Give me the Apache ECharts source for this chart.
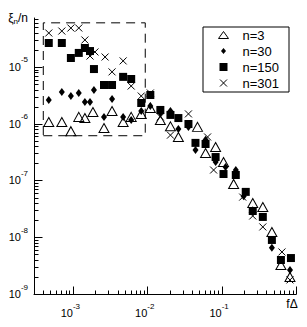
<!DOCTYPE html>
<html><head><meta charset="utf-8">
<script src="https://cdn.jsdelivr.net/npm/echarts@6/dist/echarts.min.js"></script>
<style>html,body{margin:0;padding:0;background:#fff}#c{width:307px;height:327px}</style>
</head><body><div id="c"></div>
<script>
// ---- data ----
const n3X = [4.74e-4, 7.1e-4, 9.4e-4, 1.2e-3, 1.45e-3, 1.86e-3, 2.62e-3, 3.36e-3, 4.74e-3, 6.08e-3, 8.3e-3, 1.1e-2, 1.5e-2, 2.05e-2, 2.62e-2, 4.74e-2, 6.08e-2, 8.3e-2, 0.106, 0.145, 0.262, 0.358, 0.474, 0.627, 0.83];
const n3Y = [1.07e-6, 1.07e-6, 7.4e-7, 1.32e-6, 1.26e-6, 1.61e-6, 8.4e-7, 1.68e-6, 1.07e-6, 1.32e-6, 1.49e-6, 1.9e-6, 1.16e-6, 9.0e-7, 5.85e-7, 8.8e-7, 3.05e-7, 3.9e-7, 2.12e-7, 8.7e-8, 4.0e-8, 3.4e-8, 1.24e-8, 3.24e-9, 2.0e-9];
const n30X = [4.74e-4, 7.1e-4, 9.4e-4, 1.2e-3, 1.45e-3, 1.7e-3, 1.92e-3, 2.62e-3, 3.36e-3, 4.74e-3, 6.08e-3, 8.3e-3, 1.1e-2, 1.5e-2, 2.05e-2, 2.62e-2, 3.58e-2, 4.45e-2, 6.08e-2, 8.3e-2, 0.113, 0.155, 0.198, 0.262, 0.474, 0.83];
const n30Y = [2.62e-6, 3.62e-6, 3.08e-6, 3.48e-6, 2.42e-6, 2.42e-6, 3.94e-6, 1.32e-6, 2.73e-6, 1.32e-6, 1.16e-6, 1.68e-6, 2.06e-6, 1.55e-6, 1.68e-6, 8.1e-7, 8.8e-7, 3.44e-7, 5.2e-7, 2.12e-7, 1.73e-7, 1.53e-7, 5.3e-8, 3.0e-8, 6.5e-9, 2.65e-9];
const n150X = [4.74e-4, 7.1e-4, 9.4e-4, 1.2e-3, 1.45e-3, 1.7e-3, 1.92e-3, 2.62e-3, 3.36e-3, 4.74e-3, 6.08e-3, 8.3e-3, 1.1e-2, 1.5e-2, 2.05e-2, 2.62e-2, 3.58e-2, 4.45e-2, 6.08e-2, 8.3e-2, 0.106, 0.155, 0.211, 0.262, 0.358, 0.474, 0.627, 0.855];
const n150Y = [2.65e-5, 2.65e-5, 1.44e-5, 1.77e-5, 2.16e-5, 1.91e-5, 9.2e-6, 4.82e-6, 4.82e-6, 6.7e-6, 6.15e-6, 2.32e-6, 3.21e-6, 1.75e-6, 1.43e-6, 1.26e-6, 9.9e-7, 4.6e-7, 4.4e-7, 2.59e-7, 1.3e-7, 1.25e-7, 6.3e-8, 2.9e-8, 2.28e-8, 8.96e-9, 3.97e-9, 4.3e-9];
const n301X = [4.74e-4, 7.1e-4, 9.4e-4, 1.2e-3, 1.45e-3, 1.7e-3, 1.98e-3, 2.71e-3, 3.36e-3, 4.74e-3, 6.08e-3, 8.3e-3, 1.1e-2, 1.5e-2, 2.05e-2, 3.58e-2, 6.47e-2, 7.8e-2, 0.192, 0.262, 0.358, 0.647, 0.83];
const n301Y = [3.97e-5, 4.3e-5, 4.86e-5, 4.86e-5, 2.99e-5, 1.56e-5, 1.84e-5, 1.5e-5, 8.2e-6, 1.28e-5, 4.62e-6, 3.08e-6, 3.48e-6, 1.32e-6, 6.3e-7, 1.49e-6, 5.85e-7, 1.53e-7, 5.1e-8, 2.37e-8, 1.52e-8, 5.5e-9, 1.77e-9];
const seriesNames = ['n=3', 'n=30', 'n=150', 'n=301'];
const xRange = [3e-4, 1];
const yRange = [1e-9, 7.3e-5];
const xDecades = [-4, -3, -2, -1, 0];
const yDecades = [-9, -8, -7, -6, -5];
const boxX = [4e-4, 9.4e-3];
const boxY = [6.15e-7, 6.0e-5];
const xName = 'fΔ';
const yNameParts = ['ξ', 'n', '/n'];

// ---- helpers ----
const FONT = "'Liberation Sans', Arial, Helvetica, sans-serif";
function pairs(xs, ys) { return xs.map((x, i) => [x, ys[i]]); }
function tickVals(decades, lo, hi) {
  const out = [];
  decades.forEach(d => {
    for (let m = 1; m <= 9; m++) {
      const v = m * Math.pow(10, d);
      if (v > lo * 1.0001 && v <= hi * 1.0001) out.push([v, m === 1 ? 1 : 0]);
    }
  });
  return out;
}
const xTicks = tickVals(xDecades, xRange[0], xRange[1]);
const yTicks = tickVals(yDecades, yRange[0] * 0.99, yRange[1]);

function tickSeries(vals, dir) {
  return {
    type: 'custom', silent: true, clip: false, z: 3,
    data: vals.map(t => dir === 'x' ? [t[0], yRange[0], t[1]] : [xRange[0], t[0], t[1]]),
    encode: { x: 0, y: 1 },
    renderItem: (params, api) => {
      const p = api.coord([api.value(0), api.value(1)]);
      const L = api.value(2) ? 8 : 4;
      const x = Math.round(p[0]) + 0.5, y = Math.round(p[1]) + 0.5;
      const shape = dir === 'x' ? { x1: x, y1: y, x2: x, y2: y - L } : { x1: x, y1: y, x2: x + L, y2: y };
      return { type: 'line', shape, style: { stroke: '#000', lineWidth: 1 } };
    }
  };
}
function powLabel(v) {
  const l = Math.log10(v), e = Math.round(l);
  if (Math.abs(l - e) > 1e-6 || e === 0) return '';
  return '{b|10}{s|-' + Math.abs(e) + '}';
}

const crossPath = 'path://M0,0L10,10M10,0L0,10';
const chart = echarts.init(document.getElementById('c'), null, { renderer: 'svg' });
chart.setOption({
  animation: false,
  backgroundColor: '#fff',
  grid: { left: 34, top: 18, width: 262, height: 276 },
  xAxis: {
    type: 'log', logBase: 10, min: xRange[0], max: xRange[1],
    axisLine: { lineStyle: { color: '#000', width: 1 } },
    axisTick: { show: false }, splitLine: { show: false }, minorTick: { show: false },
    axisLabel: {
      margin: 8, color: '#000', formatter: powLabel,
      showMinLabel: true, showMaxLabel: true,
      rich: {
        b: { fontSize: 11, fontFamily: FONT, color: '#000' },
        s: { fontSize: 8, fontFamily: FONT, color: '#000', padding: [0, 5, 14, 0] }
      }
    },
    name: xName, nameLocation: 'end', nameGap: -4,
    nameTextStyle: { fontSize: 12, fontFamily: FONT, color: '#000', align: 'center', verticalAlign: 'top', padding: [4, 0, 0, 0] }
  },
  yAxis: {
    type: 'log', logBase: 10, min: yRange[0], max: yRange[1],
    axisLine: { lineStyle: { color: '#000', width: 1 } },
    axisTick: { show: false }, splitLine: { show: false }, minorTick: { show: false },
    axisLabel: {
      margin: 6, color: '#000', formatter: powLabel,
      rich: {
        b: { fontSize: 11, fontFamily: FONT, color: '#000' },
        s: { fontSize: 8, fontFamily: FONT, color: '#000', padding: [0, 0, 14, 0] }
      }
    },
    name: '{a|' + yNameParts[0] + '}{sub|' + yNameParts[1] + '}{a|' + yNameParts[2] + '}',
    nameLocation: 'end', nameGap: 0,
    nameTextStyle: {
      align: 'right', verticalAlign: 'middle', padding: [0, 6, 0, 0],
      rich: {
        a: { fontSize: 12, fontFamily: FONT, color: '#000' },
        sub: { fontSize: 8, fontFamily: FONT, color: '#000', padding: [6, 0, 0, 0] }
      }
    }
  },
  legend: {
    orient: 'vertical', left: 203, top: 27,
    padding: [0, 10, 1, 15], itemGap: 0, itemWidth: 10, itemHeight: 10,
    backgroundColor: '#fff', borderColor: '#000', borderWidth: 1, borderRadius: 0,
    selectedMode: false,
    textStyle: { fontSize: 13, fontFamily: FONT, color: '#000', lineHeight: 16, padding: [0, 0, 0, 9] },
    data: [
      { name: seriesNames[0], icon: 'path://M0,0M10,10M5,1.5L10,8.5L0,8.5Z', itemStyle: { color: 'rgba(0,0,0,0)', borderColor: '#000', borderWidth: 1, opacity: 1 } },
      { name: seriesNames[1], icon: 'path://M0,0M10,10M5,2L7.5,5L5,8L2.5,5Z', itemStyle: { color: '#000', borderWidth: 0, opacity: 1 } },
      { name: seriesNames[2], icon: 'path://M0,0M10,10M1,1L9,1L9,9L1,9Z', itemStyle: { color: '#000', borderWidth: 0, opacity: 1 } },
      { name: seriesNames[3], icon: 'path://M0,0M10,10M1.5,1.5L8.5,8.5M8.5,1.5L1.5,8.5', itemStyle: { color: 'rgba(0,0,0,0)', borderColor: '#000', borderWidth: 1, opacity: 1 } }
    ]
  },
  series: [
    {
      name: seriesNames[0], type: 'scatter', data: pairs(n3X, n3Y),
      symbol: 'triangle', symbolSize: [10, 9],
      itemStyle: { color: 'rgba(0,0,0,0)', borderColor: '#000', borderWidth: 1, opacity: 1 },
      emphasis: { disabled: true }, z: 5,
      markArea: {
        silent: true,
        itemStyle: { color: 'rgba(0,0,0,0)', borderColor: '#000', borderWidth: 1, borderType: [9, 6], opacity: 1 },
        data: [[{ coord: [boxX[0], boxY[0]] }, { coord: [boxX[1], boxY[1]] }]]
      }
    },
    {
      name: seriesNames[1], type: 'scatter', data: pairs(n30X, n30Y),
      symbol: 'diamond', symbolSize: [6, 8],
      itemStyle: { color: '#000', opacity: 1 }, emphasis: { disabled: true }, z: 5
    },
    {
      name: seriesNames[2], type: 'scatter', data: pairs(n150X, n150Y),
      symbol: 'rect', symbolSize: 8,
      itemStyle: { color: '#000', opacity: 1 }, emphasis: { disabled: true }, z: 5
    },
    {
      name: seriesNames[3], type: 'scatter', data: pairs(n301X, n301Y),
      symbol: crossPath, symbolSize: 7,
      itemStyle: { color: 'rgba(0,0,0,0)', borderColor: '#000', borderWidth: 1, opacity: 1 },
      emphasis: { disabled: true }, z: 5
    },
    tickSeries(xTicks, 'x'),
    tickSeries(yTicks, 'y')
  ]
});
</script></body></html>
